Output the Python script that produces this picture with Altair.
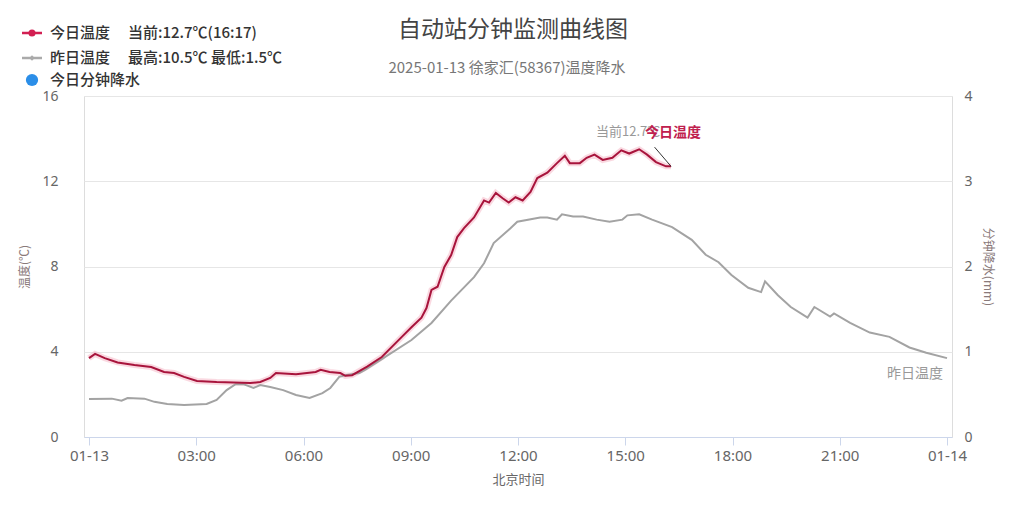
import altair as alt
import pandas as pd

# ---- data ----
today_hours = [0.0, 0.17, 0.44, 0.80, 1.27, 1.74, 2.10, 2.38, 2.66, 3.02, 3.57, 4.51, 4.79,
               5.07, 5.23, 5.79, 6.34, 6.48, 6.73, 7.03, 7.17, 7.36, 7.78, 8.19, 8.75,
               9.02, 9.30, 9.44, 9.58, 9.75, 9.94, 10.13, 10.30, 10.49, 10.77, 11.05,
               11.19, 11.38, 11.57, 11.74, 11.93, 12.13, 12.35, 12.54, 12.82, 13.09,
               13.31, 13.45, 13.73, 13.92, 14.14, 14.37, 14.64, 14.89, 15.11, 15.39,
               15.61, 15.86, 16.14, 16.28]
today_temp = [3.7, 3.9, 3.7, 3.5, 3.38, 3.28, 3.05, 3.0, 2.82, 2.63, 2.58, 2.53, 2.58,
              2.77, 3.0, 2.95, 3.05, 3.15, 3.05, 3.0, 2.87, 2.9, 3.3, 3.75, 4.7,
              5.15, 5.6, 6.05, 6.9, 7.05, 7.98, 8.54, 9.38, 9.8, 10.3, 11.1,
              11.0, 11.45, 11.2, 11.0, 11.25, 11.1, 11.5, 12.15, 12.4, 12.85,
              13.2, 12.85, 12.85, 13.1, 13.25, 13.0, 13.1, 13.45, 13.3, 13.5,
              13.25, 12.9, 12.7, 12.7]

yest_hours = [0.0, 0.64, 0.91, 1.08, 1.55, 1.83, 2.19, 2.66, 3.29, 3.57, 3.85, 4.10, 4.32,
              4.60, 4.79, 5.07, 5.43, 5.79, 6.17, 6.53, 6.75, 7.00, 7.17, 7.56, 7.72,
              8.19, 9.02, 9.58, 10.13, 10.77, 11.05, 11.32, 11.79, 11.98, 12.62, 12.82,
              13.09, 13.23, 13.54, 13.82, 14.20, 14.56, 14.92, 15.06, 15.39, 15.75,
              16.31, 16.86, 17.25, 17.61, 17.97, 18.44, 18.80, 18.91, 19.27,
              19.63, 20.10, 20.29, 20.73, 20.84, 21.29, 21.84, 22.39, 22.95, 23.42, 24.0]
yest_temp = [1.78, 1.8, 1.7, 1.83, 1.8, 1.65, 1.55, 1.5, 1.55, 1.74, 2.2, 2.48, 2.48,
             2.3, 2.44, 2.35, 2.2, 1.97, 1.83, 2.06, 2.3, 2.82, 2.9, 3.0, 3.15,
             3.65, 4.55, 5.35, 6.4, 7.5, 8.15, 9.1, 9.8, 10.1, 10.3, 10.3,
             10.2, 10.45, 10.35, 10.35, 10.2, 10.1, 10.2, 10.4, 10.45, 10.2,
             9.85, 9.25, 8.55, 8.2, 7.6, 7.0, 6.8, 7.3, 6.65,
             6.1, 5.6, 6.1, 5.65, 5.8, 5.35, 4.9, 4.7, 4.2, 3.95, 3.7]

rain_hours = []
rain_mm = []

x_ticks = [0, 3, 6, 9, 12, 15, 18, 21, 24]
x_tick_labels = ["01-13", "03:00", "06:00", "09:00", "12:00", "15:00", "18:00", "21:00", "01-14"]
y_left_ticks = [0, 4, 8, 12, 16]
y_right_ticks = [0, 1, 2, 3, 4]

title_text = "自动站分钟监测曲线图"
subtitle_text = "2025-01-13 徐家汇(58367)温度降水"
current_label = "当前12.7℃"
today_name = "今日温度"
yest_name = "昨日温度"
legend_rows = [
    ("今日温度", "当前:12.7℃(16:17)"),
    ("昨日温度", "最高:10.5℃ 最低:1.5℃"),
    ("今日分钟降水", ""),
]

RED = "#a8143c"
GREY = "#a3a3a3"
BLUE = "#2b8ee8"
CJK = "Noto Sans CJK SC"
NUM = "Noto Sans"

today_df = pd.DataFrame({"h": today_hours, "t": today_temp})
yest_df = pd.DataFrame({"h": yest_hours, "t": yest_temp})

label_js = "[" + ",".join("'%s'" % s for s in x_tick_labels) + "]"
x_enc = alt.X("h:Q", scale=alt.Scale(domain=[0, 24], nice=False, zero=False),
              axis=alt.Axis(values=x_ticks, labelExpr=label_js + "[round(datum.value/3)]",
                            grid=False, tickSize=8, domainColor="#ccd6eb", tickColor="#ccd6eb",
                            labelColor="#666", labelFont=NUM, labelFontSize=15, labelPadding=3,
                            title="北京时间", titleFont=CJK, titleFontSize=13, titleColor="#666",
                            titleFontWeight="normal", titlePadding=10))
y_left = alt.Y("t:Q", scale=alt.Scale(domain=[0, 16], nice=False),
               axis=alt.Axis(values=y_left_ticks, grid=True, gridColor="#e6e6e6", domain=False,
                             ticks=False, labelColor="#666", labelFont=NUM, labelFontSize=14,
                             labelPadding=26, title="温度(℃)", titleFont=CJK, titleFontSize=12,
                             titleColor="#8a7a7a", titleFontWeight="normal", titlePadding=10))

halo = alt.Chart(today_df).mark_line(color="#f5b3c4", strokeWidth=6, opacity=0.5).encode(x=x_enc, y=y_left)
yest_line = alt.Chart(yest_df).mark_line(color=GREY, strokeWidth=2).encode(x=x_enc, y=y_left)
today_line = alt.Chart(today_df).mark_line(color=RED, strokeWidth=2).encode(x=x_enc, y=y_left)

last_today = pd.DataFrame({"h": [today_hours[-1]], "t": [today_temp[-1]],
                           "cur": [current_label], "name": [today_name]})
cur_text = alt.Chart(last_today).mark_text(align="left", baseline="middle", dx=-75, dy=-34,
                                           font=CJK, fontSize=13, color="#999").encode(
    x="h:Q", y="t:Q", text="cur:N")
name_text = alt.Chart(last_today).mark_text(align="center", baseline="middle", dx=2, dy=-33,
                                            font=CJK, fontSize=14, fontWeight="bold", color="#c0204e").encode(
    x="h:Q", y="t:Q", text="name:N")
leader_df = pd.DataFrame({"h": [15.82], "t": [13.6], "h2": [today_hours[-1]], "t2": [today_temp[-1]]})
leader = alt.Chart(leader_df).mark_rule(color="#333", strokeWidth=1).encode(
    x="h:Q", y="t:Q", x2="h2:Q", y2="t2:Q")

last_yest = pd.DataFrame({"h": [yest_hours[-1]], "t": [yest_temp[-1]], "name": [yest_name]})
yest_text = alt.Chart(last_yest).mark_text(align="right", baseline="middle", dx=-4, dy=16,
                                           font=CJK, fontSize=14, color="#999").encode(
    x="h:Q", y="t:Q", text="name:N")

left_layer = alt.layer(halo, yest_line, today_line, leader, cur_text, name_text, yest_text)

rain_df = pd.DataFrame({"h": pd.Series(rain_hours, dtype=float), "rain": pd.Series(rain_mm, dtype=float)})
rain_layer = alt.Chart(rain_df).mark_bar(color=BLUE).encode(
    x=x_enc,
    y=alt.Y("rain:Q", scale=alt.Scale(domain=[0, 4], nice=False),
            axis=alt.Axis(orient="right", values=y_right_ticks, grid=False, domain=False, ticks=False,
                          labelColor="#666", labelFont=NUM, labelFontSize=14, labelPadding=12,
                          title="分钟降水(mm)", titleFont=CJK, titleFontSize=12, titleColor="#8a7a7a",
                          titleFontWeight="normal", titlePadding=8)))

# ---- title, subtitle and legend drawn in the top margin ----
one = alt.Data(values=[{}])
deco = [
    alt.Chart(one).mark_text(align="center", baseline="middle", font=CJK, fontSize=23,
                             color="#444").encode(x=alt.value(429), y=alt.value(-66),
                                                  text=alt.value(title_text)),
    alt.Chart(one).mark_text(align="center", baseline="middle", font=CJK, fontSize=15,
                             color="#777").encode(x=alt.value(423), y=alt.value(-28),
                                                  text=alt.value(subtitle_text)),
]
row_y = [-63, -38, -16]
for i, (name, extra) in enumerate(legend_rows):
    y = row_y[i]
    if i < 2:
        col = "#d21f52" if i == 0 else "#aaaaaa"
        deco.append(alt.Chart(one).mark_rule(color=col, strokeWidth=2.5).encode(
            x=alt.value(-62), x2=alt.value(-42), y=alt.value(y)))
        deco.append(alt.Chart(one).mark_point(filled=True, color=col, opacity=1,
                                              shape="circle" if i == 0 else "diamond",
                                              size=50 if i == 0 else 30).encode(
            x=alt.value(-52), y=alt.value(y)))
    else:
        deco.append(alt.Chart(one).mark_point(filled=True, color=BLUE, opacity=1,
                                              shape="circle", size=150).encode(
            x=alt.value(-52), y=alt.value(y)))
    deco.append(alt.Chart(one).mark_text(align="left", baseline="middle", font=CJK,
                                         fontSize=15, fontWeight=500, color="#333").encode(
        x=alt.value(-34), y=alt.value(y), text=alt.value(name)))
    if extra:
        deco.append(alt.Chart(one).mark_text(align="left", baseline="middle", font=CJK,
                                             fontSize=15, fontWeight=500, color="#333").encode(
            x=alt.value(44), y=alt.value(y), text=alt.value(extra)))

chart = alt.layer(left_layer, rain_layer, *deco).resolve_scale(y="independent").properties(
    width=868, height=341,
    autosize=alt.AutoSizeParams(type="none"),
    padding={"left": 76, "top": 88, "right": 64, "bottom": 71},
).configure_view(stroke=None).configure(background="white")

chart.save("out.html", embed_options={"renderer": "svg", "actions": False})
